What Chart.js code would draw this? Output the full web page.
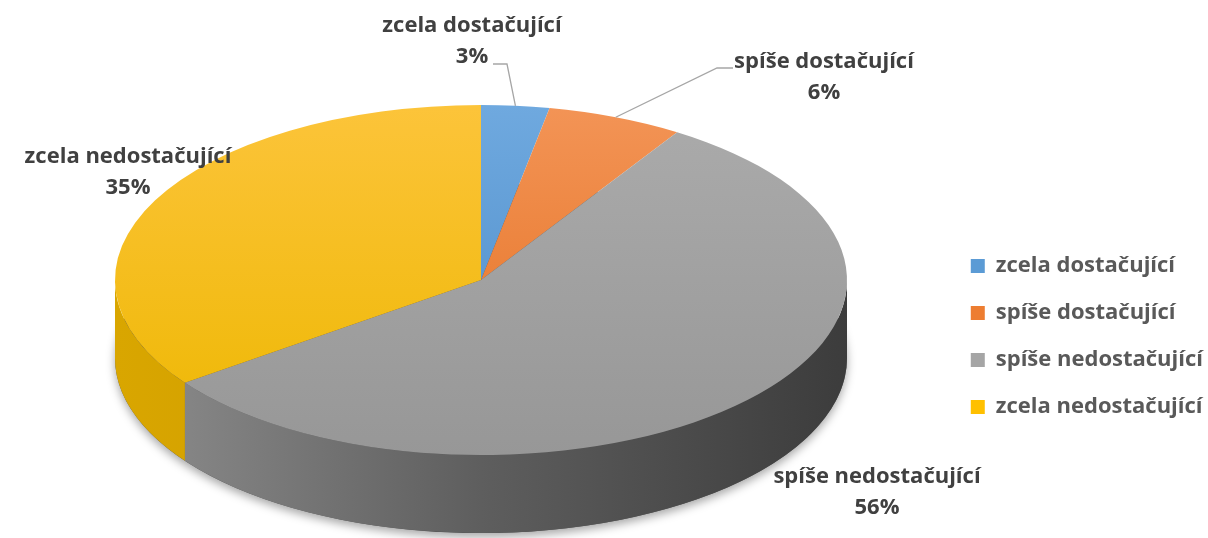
<!DOCTYPE html>
<html><head><meta charset="utf-8">
<script src="https://cdn.jsdelivr.net/npm/chart.js@4.4.0/dist/chart.umd.min.js"></script>
<style>html,body{margin:0;padding:0;background:#fff}#wrap{width:1208px;height:538px;position:relative}</style>
</head><body><div id="wrap"><canvas id="c"></canvas></div>
<script>
// ---- data ----
const categories = ['zcela dostačující', 'spíše dostačující', 'spíše nedostačující', 'zcela nedostačující'];
const values = [3, 6, 56, 35];

// ---- styles ----
const sliceColors = ['#5B9BD5', '#ED7D31', '#A5A5A5', '#FFC000'];
const topShades = [
  ['#6FA9DF', '#4A89C6'],
  ['#F39456', '#E36E1E'],
  ['#ABABAB', '#979797'],
  ['#FCC43A', '#EDB700']
];
const wallShades = [
  ['#4A84BD', '#2F6497'],
  ['#D2682A', '#A9511A'],
  ['#8E8E8E', '#5E5E5E', '#3C3C3C'],
  ['#D9A600', '#B98D00']
];
const geom = { cx: 481, cy: 280, rx: 366, ry: 175, depth: 78 };
const labelLayout = [
  { x: 472, y: 26, leader: [[493, 64], [507, 64]] },
  { x: 824, y: 62, leader: [[733, 68], [717, 68]] },
  { x: 877, y: 477, leader: null },
  { x: 128, y: 157, leader: null }
];
const FONT = '"Open Sans", "Noto Sans", sans-serif';
const FONT_SIZE = 22;

const pie3d = {
  id: 'pie3d',
  beforeDatasetsDraw(chart) {
    const ctx = chart.ctx, g = geom;
    const meta = chart.getDatasetMeta(0);
    ctx.save();
    ctx.save();
    ctx.shadowColor = 'rgba(0,0,0,0.35)';
    ctx.shadowBlur = 10;
    ctx.shadowOffsetY = 4;
    ctx.fillStyle = '#555';
    ctx.beginPath();
    ctx.ellipse(g.cx, g.cy + g.depth, g.rx, g.ry, 0, 0, Math.PI * 2);
    ctx.fill();
    ctx.restore();
    meta.data.forEach((arc, i) => {
      const p = arc.getProps(['startAngle', 'endAngle'], true);
      const s = Math.max(p.startAngle, 0), e = Math.min(p.endAngle, Math.PI);
      if (e <= s) return;
      ctx.beginPath();
      ctx.ellipse(g.cx, g.cy, g.rx, g.ry, 0, s, e, false);
      ctx.ellipse(g.cx, g.cy + g.depth, g.rx, g.ry, 0, e, s, true);
      ctx.closePath();
      const grad = ctx.createLinearGradient(g.cx - g.rx, 0, g.cx + g.rx, 0);
      const sh = wallShades[i];
      sh.forEach((c, k) => grad.addColorStop(k / (sh.length - 1), c));
      ctx.fillStyle = grad;
      ctx.fill();
    });
    meta.data.forEach(arc => {
      const { x, y, outerRadius } = arc.getProps(['x', 'y', 'outerRadius'], true);
      ctx.save();
      ctx.translate(g.cx, g.cy);
      ctx.scale(g.rx / outerRadius, g.ry / outerRadius);
      ctx.translate(-x, -y);
      arc.draw(ctx);
      ctx.restore();
    });
    ctx.restore();
    return false;
  },
  afterDraw(chart) {
    const ctx = chart.ctx, g = geom;
    const meta = chart.getDatasetMeta(0);
    const total = values.reduce((a, b) => a + b, 0);
    ctx.save();
    ctx.font = 'bold ' + FONT_SIZE + 'px ' + FONT;
    ctx.fillStyle = '#404040';
    ctx.textAlign = 'center';
    ctx.textBaseline = 'middle';
    meta.data.forEach((arc, i) => {
      const p = arc.getProps(['startAngle', 'endAngle'], true);
      const mid = (p.startAngle + p.endAngle) / 2;
      const ax = g.cx + g.rx * Math.cos(mid), ay = g.cy + g.ry * Math.sin(mid);
      const L = labelLayout[i];
      ctx.fillText(categories[i], L.x, L.y);
      ctx.fillText(Math.round(values[i] / total * 100) + '%', L.x, L.y + 31);
      if (L.leader) {
        ctx.strokeStyle = '#A6A6A6';
        ctx.lineWidth = 1.3;
        ctx.beginPath();
        ctx.moveTo(L.leader[0][0], L.leader[0][1]);
        ctx.lineTo(L.leader[1][0], L.leader[1][1]);
        ctx.lineTo(ax, ay);
        ctx.stroke();
      }
    });
    ctx.restore();
  }
};

new Chart(document.getElementById('c'), {
  type: 'pie',
  data: {
    labels: categories,
    datasets: [{
      data: values,
      borderWidth: 0,
      backgroundColor: (c) => {
        const i = c.dataIndex;
        const ca = c.chart.chartArea;
        if (!ca || i === undefined) return sliceColors[i] || '#999';
        const cy = (ca.top + ca.bottom) / 2, R = Math.min(ca.width, ca.height) / 2;
        const gr = c.chart.ctx.createLinearGradient(0, cy - R, 0, cy + R);
        gr.addColorStop(0, topShades[i][0]);
        gr.addColorStop(1, topShades[i][1]);
        return gr;
      }
    }]
  },
  options: {
    responsive: true,
    maintainAspectRatio: false,
    animation: false,
    events: [],
    layout: { padding: { top: 135, bottom: 0, left: 0, right: -5 } },
    plugins: {
      tooltip: { enabled: false },
      legend: {
        position: 'right',
        labels: {
          boxWidth: 14,
          boxHeight: 14,
          padding: 25,
          color: '#595959',
          font: { family: FONT, size: FONT_SIZE, weight: 'bold' },
          generateLabels: () => categories.map((t, i) => ({
            text: t, fillStyle: sliceColors[i], strokeStyle: sliceColors[i],
            lineWidth: 0, hidden: false, index: i, fontColor: '#595959'
          }))
        }
      }
    }
  },
  plugins: [pie3d]
});
</script>
</body></html>
